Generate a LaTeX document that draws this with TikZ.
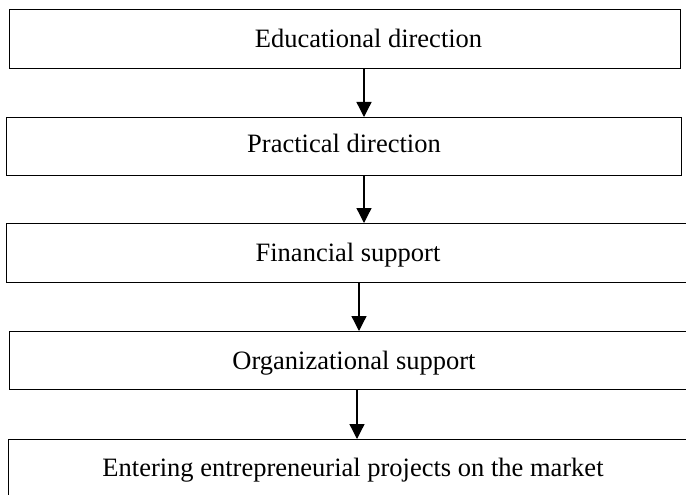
\documentclass[tikz,border=0pt]{standalone}
\usepackage{fontspec}
\setmainfont{Liberation Serif}
\usetikzlibrary{arrows.meta}
\begin{document}
\begin{tikzpicture}[x=1pt,y=-1pt,
  boxnode/.style={draw=black,line width=1.1pt,rectangle,anchor=north west,inner sep=0pt},
  lbl/.style={anchor=base,inner sep=0pt,font=\fontsize{26.5}{30}\selectfont},
  arr/.style={line width=1.3pt,-{Triangle[width=15pt,length=15pt]}}]
\useasboundingbox (0,0) rectangle (686,495);
\clip (0,0) rectangle (686,495);
\node[boxnode,minimum width=671pt,minimum height=59pt] (b1) at (9,9) {};
\node[boxnode,minimum width=675pt,minimum height=58pt] (b2) at (6,117) {};
\node[boxnode,minimum width=700pt,minimum height=59pt] (b3) at (6,223) {};
\node[boxnode,minimum width=700pt,minimum height=58pt] (b4) at (9,331) {};
\node[boxnode,minimum width=700pt,minimum height=70pt] (b5) at (8,439) {};
\node[lbl] (t1) at (368.5,47.7) {Educational direction};
\node[lbl] (t2) at (344,152.3) {Practical direction};
\node[lbl] (t3) at (348,261.5) {Financial support};
\node[lbl] (t4) at (354,369) {Organizational support};
\node[lbl] (t5) at (353,476) {Entering entrepreneurial projects on the market};
\coordinate (x1) at (364,0);
\coordinate (x2) at (364,0);
\coordinate (x3) at (359,0);
\coordinate (x4) at (357,0);
\draw[arr] (x1 |- b1.south) -- (x1 |- b2.north);
\draw[arr] (x2 |- b2.south) -- (x2 |- b3.north);
\draw[arr] (x3 |- b3.south) -- (x3 |- b4.north);
\draw[arr] (x4 |- b4.south) -- (x4 |- b5.north);
\end{tikzpicture}
\end{document}
